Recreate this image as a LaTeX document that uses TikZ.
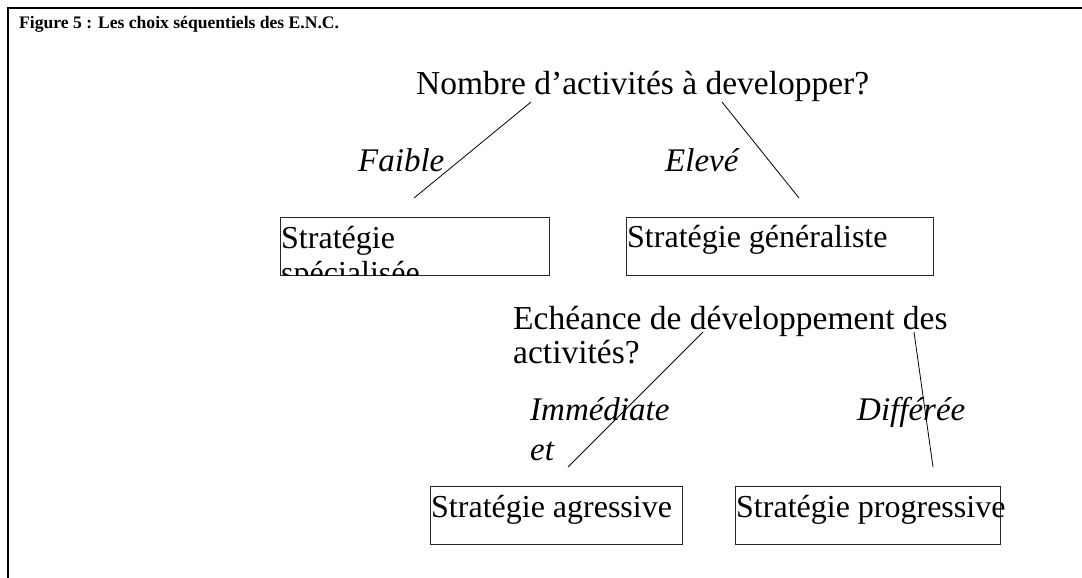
\documentclass[tikz,border=0pt]{standalone}
\usepackage{fontspec}
\setmainfont{Liberation Serif}
\usetikzlibrary{positioning}
\tikzset{choice/.style={draw=black!85, line width=0.8pt, anchor=north west, inner sep=0pt, minimum height=58pt}}
\tikzset{boxtext/.style={font=\fontsize{32}{30}\selectfont, anchor=base west, inner sep=0pt, align=left}}
\tikzset{question/.style={font=\fontsize{33.5}{31}\selectfont, anchor=base west, inner sep=0pt, align=left}}
\tikzset{answer/.style={font=\fontsize{33}{30}\selectfont\itshape, anchor=base west, inner sep=0pt, align=left}}
\tikzset{branch/.style={line width=0.8pt}}

\begin{document}
\begin{tikzpicture}[x=1pt, y=-1pt]
	\useasboundingbox (0,0) rectangle (1082,578);
	% Frame and title
	\draw[line width=2.6pt] (8,578) -- (8,8) -- (1082,8);
	\node (title) [anchor=base west, inner sep=0pt, font=\fontsize{17.6}{20}\selectfont\bfseries] at (19,29) {Figure 5 : Les choix séquentiels des E.N.C.};

	% First choice
	\node (nombre) [question] at (416,95) {Nombre d’activités à developper?};
	\node (faible) [answer] at (358,171) {Faible};
	\node (eleve) [answer] at (665,171) {Elevé};
	\node (specbox) [choice, minimum width=269pt] at (280,217) {};
	\begin{scope}
		\clip (specbox.north west) rectangle (specbox.south east);
		\node (spectext) [boxtext] at ([shift={(1,66)}]specbox.north west) {Stratégie\\[5pt]spécialisée};
	\end{scope}
	\node (genbox) [choice, minimum width=307pt] at (626,217) {};
	\node (gentext) [boxtext] at ([shift={(1,30)}]genbox.north west) {Stratégie généraliste};

	% Second choice
	\node (echeance) [question] at (513,363) {Echéance de développement des\\[3pt]activités?};
	\node (immediate) [answer] at (530,460) {Immédiate\\[10pt]et};
	\node (differee) [answer] at (857,420) {Différée};
	\node (agrbox) [choice, minimum width=252pt] at (430,486) {};
	\node (agrtext) [boxtext] at ([shift={(1,31)}]agrbox.north west) {Stratégie agressive};
	\node (progbox) [choice, minimum width=265pt] at (735,486) {};
	\node (progtext) [boxtext] at ([shift={(1,31)}]progbox.north west) {Stratégie progressive};

	% Branch ends
	\coordinate (faible-top) at (531,102);
	\coordinate (faible-end) at (414,198);
	\coordinate (eleve-top) at (722,102);
	\coordinate (eleve-end) at (799,198);
	\coordinate (immediate-top) at (703,332);
	\coordinate (immediate-end) at (568,467);
	\coordinate (differee-top) at (914,332);
	\coordinate (differee-end) at (933,467);

	% Connectors
	\draw [branch] (faible-top) -- (faible-end);
	\draw [branch] (eleve-top) -- (eleve-end);
	\draw [branch] (immediate-top) -- (immediate-end);
	\draw [branch] (differee-top) -- (differee-end);
\end{tikzpicture}
\end{document}
